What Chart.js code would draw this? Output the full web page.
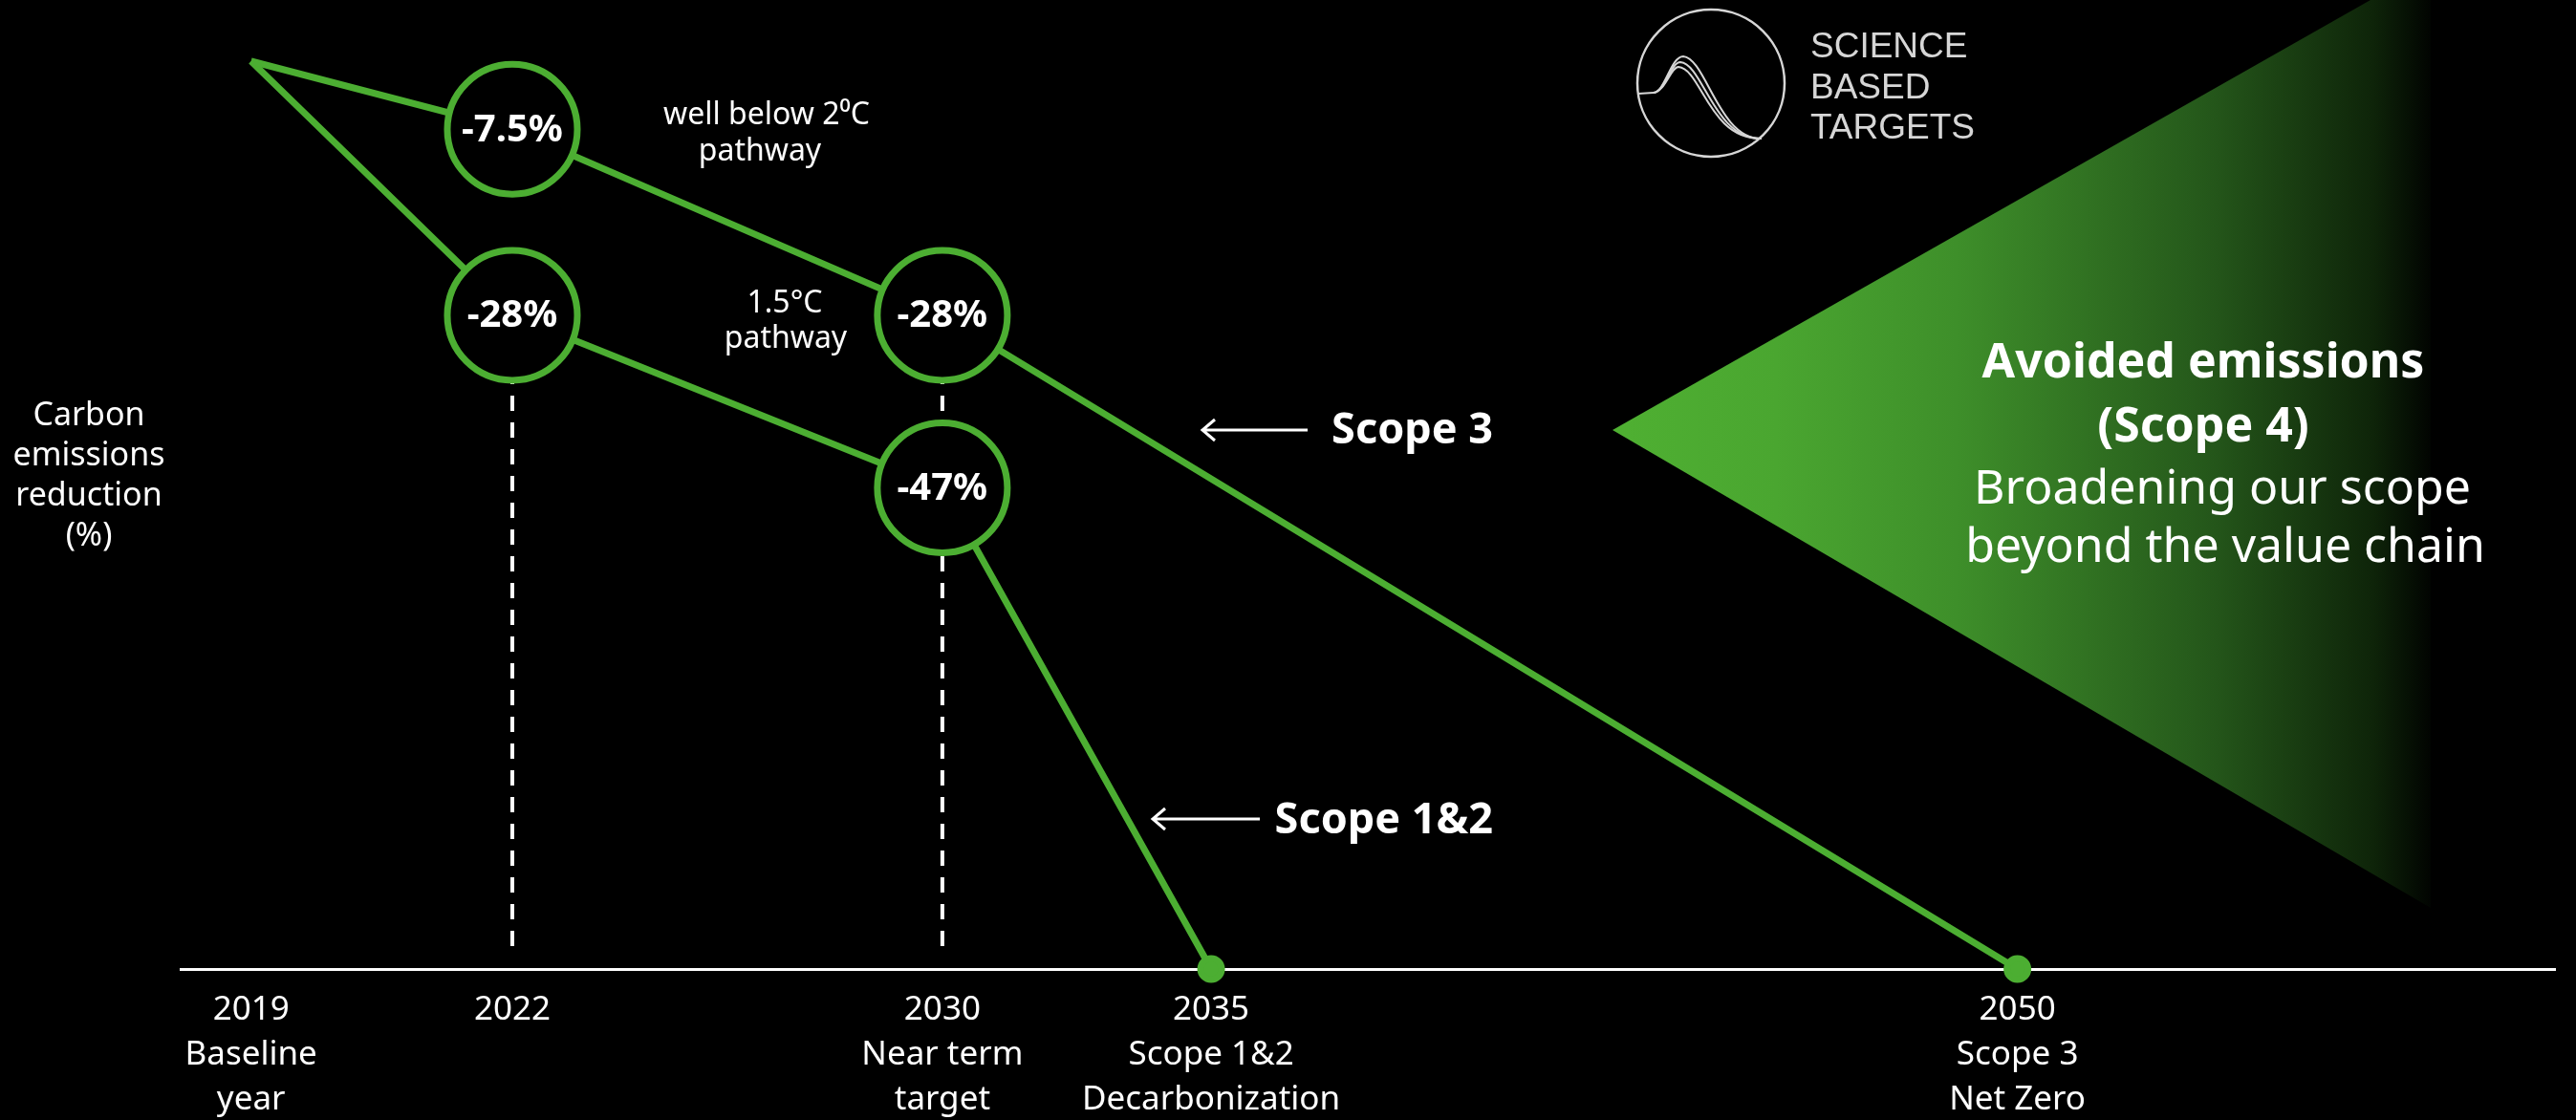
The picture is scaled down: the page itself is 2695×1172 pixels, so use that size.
<!DOCTYPE html>
<html>
<head>
<meta charset="utf-8">
<title>Carbon emissions reduction pathway</title>
<script src="https://cdn.jsdelivr.net/npm/chart.js@4.4.1/dist/chart.umd.min.js"></script>
<style>
    html, body { margin: 0; padding: 0; background: #000; }
</style>
</head>
<body>
<canvas id="pathwayChart" width="2695" height="1172"></canvas>
<script>
// --- Data ---
const tickYears = [2019, 2022, 2030, 2035, 2050];
const tickLabels = [
    ['2019', 'Baseline', 'year'],
    ['2022'],
    ['2030', 'Near term', 'target'],
    ['2035', 'Scope 1&2', 'Decarbonization'],
    ['2050', 'Scope 3', 'Net Zero']
];
const scope3Years = [2019, 2022, 2030, 2050];
const scope3Values = [0, -7.5, -28, -100];
const scope12Years = [2019, 2022, 2030, 2035];
const scope12Values = [0, -28, -47, -100];
const guideYears = [2022, 2030];
const guideFrom = [-28, -28];

const GREEN = '#4cae32';
const FONT = "'Noto Sans', 'Open Sans', sans-serif";

// --- Timeline axis: the baseline stretch (2019-2022) is drawn wider ---
const BASELINE_STRETCH = 1.62;
const pivotYear = tickYears[1];
function warpYear(v) {
    return v < pivotYear ? pivotYear - (pivotYear - v) * BASELINE_STRETCH : v;
}
function unwarpYear(w) {
    return w < pivotYear ? pivotYear - (pivotYear - w) / BASELINE_STRETCH : w;
}

class TimelineScale extends Chart.LinearScale {
    getPixelForValue(value) {
        if (value === null || value === undefined) return NaN;
        return super.getPixelForValue(warpYear(value));
    }
    getValueForPixel(pixel) {
        return unwarpYear(super.getValueForPixel(pixel));
    }
}
TimelineScale.id = 'timeline';
TimelineScale.defaults = Chart.LinearScale.defaults;
Chart.register(TimelineScale);

function toPoints(xs, ys) {
    return xs.map(function (x, i) { return { x: x, y: ys[i] }; });
}

function lastIndex(ctx) {
    return ctx.dataset.data.length - 1;
}

// --- Overlay: guides, labels, arrows, avoided emissions wedge, logo ---
const overlayPlugin = {
    id: 'pathwayOverlay',
    beforeDatasetsDraw(chart) {
        const c = chart.ctx;
        const xs = chart.scales.x, ys = chart.scales.y;
        c.save();

        // Avoided emissions wedge
        const grad = c.createLinearGradient(1687, 0, 2543, 0);
        grad.addColorStop(0, '#4fb032');
        grad.addColorStop(0.2, '#4aa630');
        grad.addColorStop(0.42, '#3e8f2a');
        grad.addColorStop(0.735, '#24561a');
        grad.addColorStop(0.93, '#0e2409');
        grad.addColorStop(1, '#010401');
        c.fillStyle = grad;
        c.beginPath();
        c.moveTo(1687, 450);
        c.lineTo(2480, 0);
        c.lineTo(2543, 0);
        c.lineTo(2543, 950);
        c.closePath();
        c.fill();

        // Dashed guides
        c.setLineDash([16, 12]);
        c.strokeStyle = '#fff';
        c.lineWidth = 4;
        guideYears.forEach(function (yr, i) {
            const px = xs.getPixelForValue(yr);
            c.beginPath();
            c.moveTo(px, ys.getPixelForValue(guideFrom[i]));
            c.lineTo(px, ys.bottom - 12);
            c.stroke();
        });
        c.restore();
    },
    afterDatasetsDraw(chart) {
        const c = chart.ctx;
        c.save();
        c.fillStyle = '#fff';
        c.textAlign = 'center';

        // Percent labels inside the circles
        c.font = 'bold 40px ' + FONT;
        c.textBaseline = 'middle';
        chart.data.datasets.forEach(function (ds, di) {
            const meta = chart.getDatasetMeta(di);
            meta.data.forEach(function (pt, i) {
                if (i === 0 || i === meta.data.length - 1) return;
                c.fillText(ds.data[i].y + '%', pt.x, pt.y + 1);
            });
        });

        c.textBaseline = 'alphabetic';

        // Y axis title
        c.font = '34px ' + FONT;
        ['Carbon', 'emissions', 'reduction', '(%)'].forEach(function (t, i) {
            c.fillText(t, 93, 445 + i * 42);
        });

        // Pathway notes
        c.font = '32px ' + FONT;
        c.fillText('well below 2\u2070C', 802, 130);
        c.fillText('pathway', 795, 168);
        c.fillText('1.5\u00b0C', 821, 327);
        c.fillText('pathway', 822, 364);

        // Scope arrows
        c.font = 'bold 45px ' + FONT;
        c.textAlign = 'right';
        c.fillText('Scope 3', 1562, 464);
        c.fillText('Scope 1&2', 1562, 872);
        c.strokeStyle = '#fff';
        c.lineWidth = 3;
        [[1258, 1368, 450], [1206, 1318, 857]].forEach(function (a) {
            c.beginPath();
            c.moveTo(a[1], a[2]);
            c.lineTo(a[0], a[2]);
            c.moveTo(a[0] + 13, a[2] - 11);
            c.lineTo(a[0], a[2]);
            c.lineTo(a[0] + 13, a[2] + 11);
            c.stroke();
        });

        // Avoided emissions text
        c.textAlign = 'center';
        c.font = 'bold 50px ' + FONT;
        c.fillText('Avoided emissions', 2305, 395);
        c.fillText('(Scope 4)', 2305, 462);
        c.font = '50px ' + FONT;
        c.fillText('Broadening our scope', 2325, 527);
        c.fillText('beyond the value chain', 2328, 588);

        // Science Based Targets logo
        c.strokeStyle = '#d6d6d6';
        c.lineWidth = 2.5;
        c.beginPath();
        c.arc(1790, 87, 77, 0, Math.PI * 2);
        c.stroke();
        c.lineWidth = 2;
        c.beginPath();
        c.moveTo(1714, 98);
        c.lineTo(1730, 97);
        c.stroke();
        [[1761, 59, 0], [1758, 65, 1], [1756, 70, 2]].forEach(function (p) {
            c.beginPath();
            c.moveTo(1730, 97);
            c.bezierCurveTo(1742, 96, 1748, p[1], p[0], p[1]);
            c.bezierCurveTo(p[0] + 24, p[1] + 2, 1798 - p[2] * 5, 146, 1843, 145);
            c.stroke();
        });
        c.fillStyle = '#d6d6d6';
        c.textAlign = 'left';
        c.font = "37px 'Liberation Sans', Arial, sans-serif";
        c.fillText('SCIENCE', 1894, 60);
        c.fillText('BASED', 1894, 103);
        c.fillText('TARGETS', 1894, 145);
        c.restore();
    }
};

// --- Chart ---
document.addEventListener('DOMContentLoaded', function () {
    const pathwayCtx = document.getElementById('pathwayChart');
    const lineStyle = {
        borderColor: GREEN,
        borderWidth: 7,
        tension: 0,
        fill: false,
        clip: false,
        pointStyle: 'circle',
        pointBorderColor: GREEN,
        pointBorderWidth: 7,
        pointRadius: function (ctx) {
            if (ctx.dataIndex === 0) return 0;
            return ctx.dataIndex === lastIndex(ctx) ? 11 : 68;
        },
        pointBackgroundColor: function (ctx) {
            return ctx.dataIndex === lastIndex(ctx) ? GREEN : '#000';
        }
    };

    new Chart(pathwayCtx, {
        type: 'line',
        data: {
            datasets: [
                Object.assign({ label: 'Scope 3', data: toPoints(scope3Years, scope3Values) }, lineStyle),
                Object.assign({ label: 'Scope 1&2', data: toPoints(scope12Years, scope12Values) }, lineStyle)
            ]
        },
        options: {
            responsive: false,
            animation: false,
            events: [],
            layout: {
                padding: { left: 189, right: 22, top: 64, bottom: 0 }
            },
            scales: {
                x: {
                    type: 'timeline',
                    min: 2015.83,
                    max: 2060,
                    bounds: 'data',
                    offset: false,
                    afterBuildTicks: function (scale) {
                        scale.ticks = tickYears.map(function (v) { return { value: v }; });
                    },
                    afterFit: function (scale) {
                        scale.height = 158;
                    },
                    grid: { display: false, drawTicks: false },
                    border: { display: true, color: '#fff', width: 3 },
                    ticks: {
                        autoSkip: false,
                        maxRotation: 0,
                        color: '#fff',
                        padding: 20,
                        font: { family: FONT, size: 35, lineHeight: 1.34 },
                        callback: function (value, index) {
                            return tickLabels[index];
                        }
                    }
                },
                y: {
                    display: false,
                    min: -100,
                    max: 0
                }
            },
            plugins: {
                legend: { display: false },
                tooltip: { enabled: false }
            }
        },
        plugins: [overlayPlugin]
    });
});
</script>
</body>
</html>
